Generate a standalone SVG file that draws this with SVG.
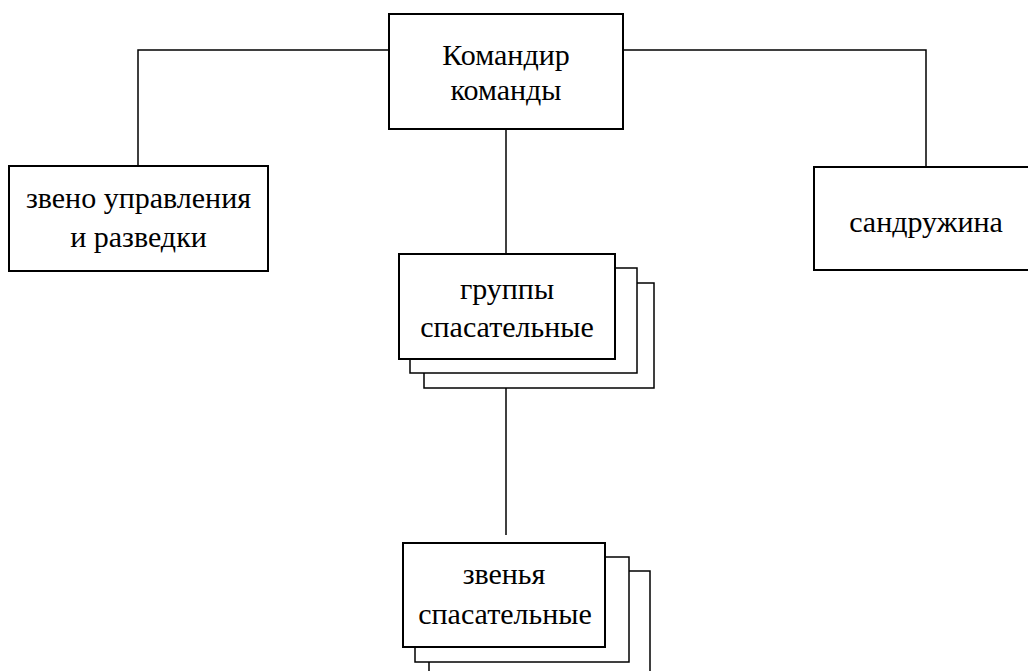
<svg xmlns="http://www.w3.org/2000/svg" width="1028" height="671" viewBox="0 0 1028 671">
<style>
.box{fill:#fff;stroke:#000;stroke-width:2}
.back{fill:#fff;stroke:#000;stroke-width:1.5}
.conn{fill:none;stroke:#000;stroke-width:1.5}
.t{font-family:'Liberation Serif','Times New Roman','DejaVu Serif',serif;font-size:30px;fill:#000;text-anchor:middle}
</style>
<rect width="1028" height="671" fill="#fff"/>
<g id="connectors">
<polyline class="conn" points="389,50 138,50 138,166"/>
<polyline class="conn" points="623,50 926,50 926,167"/>
<line class="conn" x1="506" y1="129" x2="506" y2="254"/>
<line class="conn" x1="506" y1="388" x2="506" y2="535"/>
</g>
<g id="commander">
<rect class="box" x="389" y="14" width="234" height="115"/>
<text class="t" x="506" y="65">Командир</text>
<text class="t" x="506" y="100">команды</text>
</g>
<g id="control">
<rect class="box" x="9" y="166" width="259" height="105"/>
<text class="t" x="138.5" y="208">звено управления</text>
<text class="t" x="138.5" y="247">и разведки</text>
</g>
<g id="sandruzhina">
<rect class="box" x="814" y="167" width="224" height="103"/>
<text class="t" x="926" y="232">сандружина</text>
</g>
<g id="groups">
<rect class="back" x="424" y="283" width="230" height="105"/>
<rect class="back" x="410" y="268" width="227" height="105"/>
<rect class="box" x="399" y="254" width="216" height="105"/>
<text class="t" x="507" y="299">группы</text>
<text class="t" x="507" y="337">спасательные</text>
</g>
<g id="links">
<rect class="back" x="429" y="571" width="221" height="120"/>
<rect class="back" x="415" y="557" width="214" height="105"/>
<rect class="box" x="403" y="543" width="202" height="104"/>
<text class="t" x="504" y="584">звенья</text>
<text class="t" x="505" y="624">спасательные</text>
</g>
</svg>
